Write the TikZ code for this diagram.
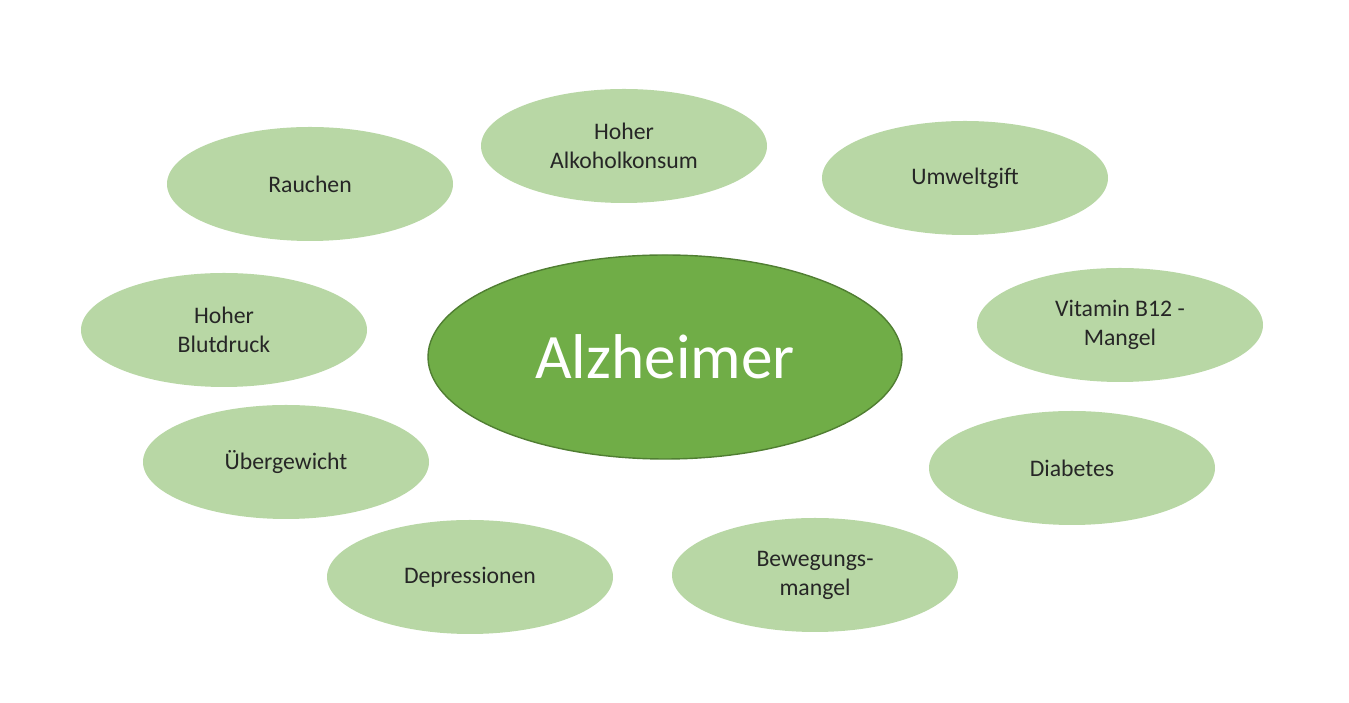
\documentclass[tikz,border=0pt]{standalone}
\usepackage{fontspec}
\setmainfont{Carlito}
\usetikzlibrary{shapes.geometric}
\definecolor{lightgreen}{HTML}{B8D7A5}
\definecolor{midgreen}{HTML}{70AD47}
\definecolor{darkgreen}{HTML}{507E32}
\tikzset{
  factor/.style={ellipse, fill=lightgreen, minimum width=5.72cm, minimum height=2.28cm,
    inner sep=0pt, align=center, font=\fontsize{13.5}{16.5}\selectfont, text=black!85},
  centre/.style={ellipse, fill=midgreen, draw=darkgreen, line width=0.8pt,
    minimum width=9.48cm, minimum height=4.08cm, text=white, font=\fontsize{36}{40}\selectfont}
}
\begin{document}
\begin{tikzpicture}
           \useasboundingbox (0,0) rectangle (26.98,14.06);
           % centre
           \node[centre] (alz) at (13.30,6.92) {Alzheimer};
           % factors
           \node[factor] (alkohol) at (12.48,11.14) {Hoher\\Alkoholkonsum};
           \node[factor] (rauchen) at (6.20,10.38) {Rauchen};
           \node[factor] (umwelt) at (19.30,10.50) {Umweltgift};
           \node[factor] (blutdruck) at (4.48,7.46) {Hoher\\Blutdruck};
           \node[factor] (vitamin) at (22.40,7.56) {Vitamin B12 -\\Mangel};
           \node[factor] (gewicht) at (5.72,4.82) {Übergewicht};
           \node[factor] (diabetes) at (21.44,4.70) {Diabetes};
           \node[factor] (depress) at (9.40,2.52) {Depressionen};
           \node[factor] (bewegung) at (16.30,2.56) {Bewegungs-\\mangel};
\end{tikzpicture}
\end{document}
